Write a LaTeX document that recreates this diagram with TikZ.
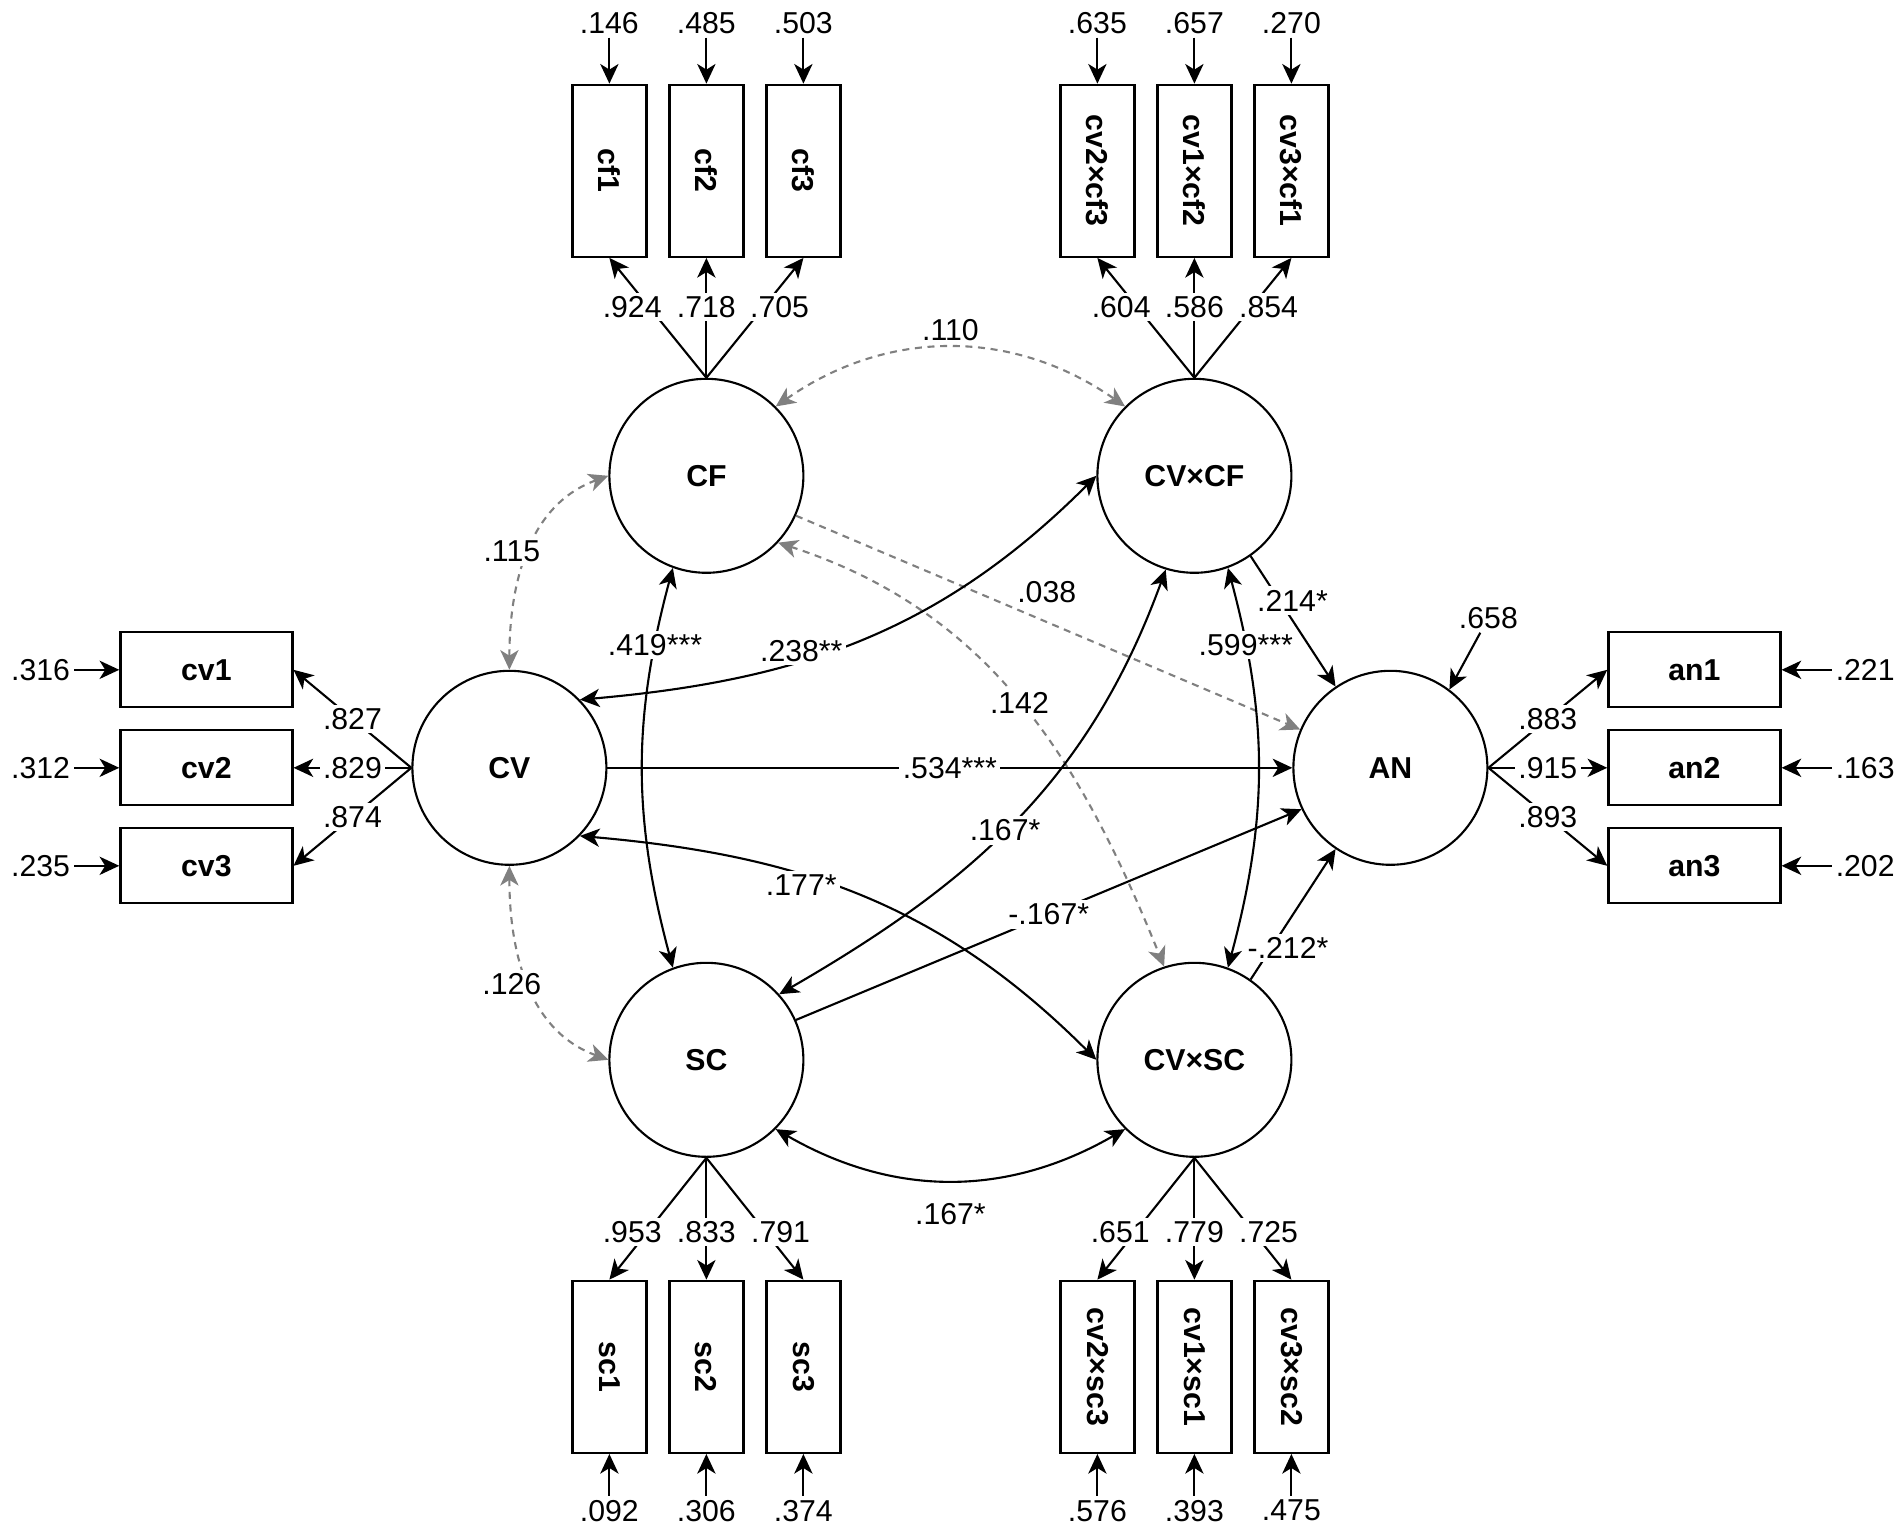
\documentclass[tikz,border=0pt]{standalone}
\usepackage{fontspec}
\setmainfont{Liberation Sans}
\usepackage{graphicx}
\usepackage{tikz}
\usetikzlibrary{arrows.meta, positioning}

\begin{document}
\begin{tikzpicture}[
    every node/.style={font=\fontsize{8.6}{10}\selectfont},
    % Variable styles
    latent/.style={circle, draw=black, line width=0.6pt, minimum size=1.94cm, inner sep=0pt, font=\fontsize{8.6}{10}\selectfont\bfseries},
    indh/.style={rectangle, draw=black, line width=0.65pt, minimum width=1.72cm, minimum height=0.75cm, inner sep=0pt, font=\fontsize{8.6}{10}\selectfont\bfseries},
    indv/.style={indh, minimum width=0.74cm, minimum height=1.72cm},
    % Arrow styles
    >={Stealth[length=5.6pt, width=5.2pt, inset=1.6pt]},
    loadpath/.style={->, line width=0.6pt},
    regpath/.style={->, line width=0.6pt},
    covpath/.style={<->, line width=0.6pt},
    nspath/.style={->, line width=0.6pt, black!50, dash pattern=on 2pt off 1.6pt},
    nscov/.style={<->, line width=0.6pt, black!50, dash pattern=on 2pt off 1.6pt},
    % Labels
    coef/.style={fill=white, inner sep=1pt, text=black},
    err/.style={inner sep=1pt}
]
\useasboundingbox (-9.504,-7.630) rectangle (9.516,7.678);

% Latent variables
\node[latent] (cv) at (-4.41, 0) {CV};
\node[latent] (an) at (4.40, 0) {AN};
\node[latent] (cf) at (-2.44, 2.92) {CF};
\node[latent] (cvcf) at (2.44, 2.92) {CV×CF};
\node[latent] (sc) at (-2.44, -2.92) {SC};
\node[latent] (cvsc) at (2.44, -2.92) {CV×SC};

% Indicators (top)
\node[indv] (cf1) at (-3.41, 5.97) {\rotatebox{-90}{cf1}};
\node[indv] (cf2) at (-2.44, 5.97) {\rotatebox{-90}{cf2}};
\node[indv] (cf3) at (-1.47, 5.97) {\rotatebox{-90}{cf3}};
\node[indv] (cvcf3) at (1.47, 5.97) {\rotatebox{-90}{cv2×cf3}};
\node[indv] (cvcf2) at (2.44, 5.97) {\rotatebox{-90}{cv1×cf2}};
\node[indv] (cvcf1) at (3.41, 5.97) {\rotatebox{-90}{cv3×cf1}};

% Indicators (bottom)
\node[indv] (sc1) at (-3.41, -5.99) {\rotatebox{-90}{sc1}};
\node[indv] (sc2) at (-2.44, -5.99) {\rotatebox{-90}{sc2}};
\node[indv] (sc3) at (-1.47, -5.99) {\rotatebox{-90}{sc3}};
\node[indv] (cvsc3) at (1.47, -5.99) {\rotatebox{-90}{cv2×sc3}};
\node[indv] (cvsc1) at (2.44, -5.99) {\rotatebox{-90}{cv1×sc1}};
\node[indv] (cvsc2) at (3.41, -5.99) {\rotatebox{-90}{cv3×sc2}};

% Indicators (left and right)
\node[indh] (cv1) at (-7.44, 0.98) {cv1};
\node[indh] (cv2) at (-7.44, 0) {cv2};
\node[indh] (cv3) at (-7.44, -0.98) {cv3};
\node[indh] (an1) at (7.44, 0.98) {an1};
\node[indh] (an2) at (7.44, 0) {an2};
\node[indh] (an3) at (7.44, -0.98) {an3};

% Error terms
\node[err, above=0.46cm of cf1] (ecf1) {.146};
\node[err, above=0.46cm of cf2] (ecf2) {.485};
\node[err, above=0.46cm of cf3] (ecf3) {.503};
\node[err, above=0.46cm of cvcf3] (ecvcf3) {.635};
\node[err, above=0.46cm of cvcf2] (ecvcf2) {.657};
\node[err, above=0.46cm of cvcf1] (ecvcf1) {.270};
\node[err, below=0.42cm of sc1] (esc1) {.092};
\node[err, below=0.42cm of sc2] (esc2) {.306};
\node[err, below=0.42cm of sc3] (esc3) {.374};
\node[err, below=0.42cm of cvsc3] (ecvsc3) {.576};
\node[err, below=0.42cm of cvsc1] (ecvsc1) {.393};
\node[err, below=0.42cm of cvsc2] (ecvsc2) {.475};
\node[err, left=0.45cm of cv1] (ecv1) {.316};
\node[err, left=0.45cm of cv2] (ecv2) {.312};
\node[err, left=0.45cm of cv3] (ecv3) {.235};
\node[err, right=0.5cm of an1] (ean1) {.221};
\node[err, right=0.5cm of an2] (ean2) {.163};
\node[err, right=0.5cm of an3] (ean3) {.202};
\node[err] (ean) at (5.38, 1.50) {.658};

\draw[loadpath] (ecf1) -- (cf1);
\draw[loadpath] (ecf2) -- (cf2);
\draw[loadpath] (ecf3) -- (cf3);
\draw[loadpath] (ecvcf3) -- (cvcf3);
\draw[loadpath] (ecvcf2) -- (cvcf2);
\draw[loadpath] (ecvcf1) -- (cvcf1);
\draw[loadpath] (esc1) -- (sc1);
\draw[loadpath] (esc2) -- (sc2);
\draw[loadpath] (esc3) -- (sc3);
\draw[loadpath] (ecvsc3) -- (cvsc3);
\draw[loadpath] (ecvsc1) -- (cvsc1);
\draw[loadpath] (ecvsc2) -- (cvsc2);
\draw[loadpath] (ecv1) -- (cv1);
\draw[loadpath] (ecv2) -- (cv2);
\draw[loadpath] (ecv3) -- (cv3);
\draw[loadpath] (ean1) -- (an1);
\draw[loadpath] (ean2) -- (an2);
\draw[loadpath] (ean3) -- (an3);
\draw[regpath] (ean) -- (an.53);

% Factor loadings
\draw[loadpath] (cf.north) -- node[coef, pos=.59, xshift=-1.7mm] {.924} (cf1.south);
\draw[loadpath] (cf.north) -- node[coef, pos=.59] {.718} (cf2.south);
\draw[loadpath] (cf.north) -- node[coef, pos=.59, xshift=1.6mm] {.705} (cf3.south);
\draw[loadpath] (cvcf.north) -- node[coef, pos=.59, xshift=-1.6mm] {.604} (cvcf3.south);
\draw[loadpath] (cvcf.north) -- node[coef, pos=.59] {.586} (cvcf2.south);
\draw[loadpath] (cvcf.north) -- node[coef, pos=.59, xshift=1.7mm] {.854} (cvcf1.south);
\draw[loadpath] (sc.south) -- node[coef, pos=.61, xshift=-1.5mm] {.953} (sc1.north);
\draw[loadpath] (sc.south) -- node[coef, pos=.61] {.833} (sc2.north);
\draw[loadpath] (sc.south) -- node[coef, pos=.61, xshift=1.5mm] {.791} (sc3.north);
\draw[loadpath] (cvsc.south) -- node[coef, pos=.61, xshift=-1.5mm] {.651} (cvsc3.north);
\draw[loadpath] (cvsc.south) -- node[coef, pos=.61] {.779} (cvsc1.north);
\draw[loadpath] (cvsc.south) -- node[coef, pos=.61, xshift=1.5mm] {.725} (cvsc2.north);
\draw[loadpath] (cv.west) -- node[coef] {.827} (cv1.east);
\draw[loadpath] (cv.west) -- node[coef] {.829} (cv2.east);
\draw[loadpath] (cv.west) -- node[coef] {.874} (cv3.east);
\draw[loadpath] (an.east) -- node[coef] {.883} (an1.west);
\draw[loadpath] (an.east) -- node[coef] {.915} (an2.west);
\draw[loadpath] (an.east) -- node[coef] {.893} (an3.west);

% Non-significant paths
\draw[nscov] (cf.45) to[out=35, in=145] node[above=-1.5pt, text=black] {.110} (cvcf.135);
\draw[nscov] (cv.north) to[out=90, in=200] node[coef, xshift=-1.7mm] {.115} (cf.west);
\draw[nscov] (cv.south) to[out=-90, in=160] node[coef, xshift=-1.7mm] {.126} (sc.west);
\draw[nspath] (cf.-24) -- node[pos=.43, above right=0pt, inner sep=1pt, text=black] {.038} (an.157);
\draw[nscov] (cf.-43) to[out=-18, in=112] node[coef] {.142} (cvsc.108);

% Structural paths
\draw[regpath] (cv) -- node[coef] {.534***} (an);
\draw[regpath] (cvcf.-55) -- node[coef, pos=.34, xshift=1.3mm] {.214*} (an.124);
\draw[regpath] (cvsc.55) -- node[coef, pos=.24, xshift=1.7mm] {-.212*} (an.-124);
\draw[regpath] (sc.24) -- node[coef] {-.167*} (an.205);

% Covariances
\draw[covpath] (cf.-110) to[out=-105, in=105] node[coef, pos=.18] {.419***} (sc.110);
\draw[covpath] (cvcf.-70) to[out=-75, in=75] node[coef, pos=.18] {.599***} (cvsc.70);
\draw[covpath] (cv.44) to[out=5, in=-135] node[coef, pos=.38, yshift=1mm] {.238**} (cvcf.180);
\draw[covpath] (cv.-44) to[out=-5, in=135] node[coef, pos=.38, yshift=-1mm] {.177*} (cvsc.180);
\draw[covpath] (sc.42) to[out=30, in=-110] node[coef, pos=.47] {.167*} (cvcf.-107);
\draw[covpath] (sc.-45) to[out=-30, in=-150] node[below=3pt] {.167*} (cvsc.-135);

\end{tikzpicture}
\end{document}
